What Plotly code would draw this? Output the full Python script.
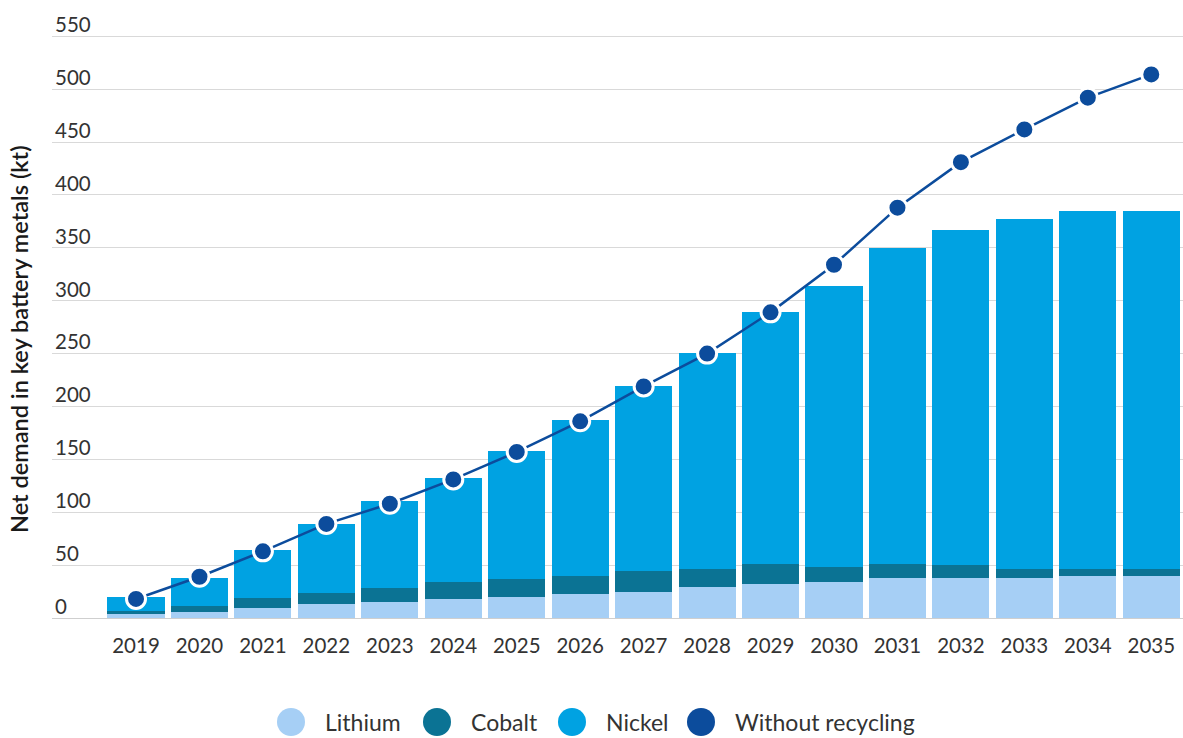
import plotly.graph_objects as go

years = [str(y) for y in range(2019, 2036)]
lithium = [4, 6, 9.5, 13, 15, 18, 20, 22.5, 25, 29, 32, 34, 37.5, 37.5, 38, 40, 40]
cobalt = [3, 5.5, 9.5, 11, 13, 16, 17, 17.5, 19, 17, 19, 14.5, 13.5, 12.5, 8, 6, 6]
nickel = [13, 26.5, 45, 65, 83, 98, 121, 147, 175, 205, 238, 265.5, 299, 317, 331, 339, 339]
without_recycling = [18, 39, 63, 89, 108, 131, 157, 186, 219, 250, 289, 334, 388, 431, 462, 492, 514]

legend_names = ["Lithium", "Cobalt", "Nickel", "Without recycling"]

c_li = "#a6cff5"
c_co = "#0b7394"
c_ni = "#00a2e2"
c_wr = "#0c4c9c"
legend_colors = [c_li, c_co, c_ni, c_wr]

FONT = "Lato, 'Open Sans', sans-serif"

fig = go.Figure()
for name, vals, col in [("Lithium", lithium, c_li), ("Cobalt", cobalt, c_co), ("Nickel", nickel, c_ni)]:
    fig.add_trace(go.Bar(x=years, y=vals, name=name, marker=dict(color=col, line=dict(width=0))))

fig.add_trace(go.Scatter(x=years, y=without_recycling, mode="lines+markers", name="Without recycling",
                         line=dict(color=c_wr, width=2.5),
                         marker=dict(size=19, color=c_wr, line=dict(color="white", width=3))))

# plot area geometry (pixels) used to place the custom legend
L, R, T, B = 52, 0, 8, 120
W, H = 1183, 738
pw = W - L - R
ph = H - T - B


def px_x(p):
    return (p - L) / pw


def px_y(p):
    return (H - B - p) / ph


legend_circle_x = [291, 437, 572, 701]
legend_y = 722
shapes = []
annotations = []
for name, col, cx in zip(legend_names, legend_colors, legend_circle_x):
    shapes.append(dict(type="circle", xref="paper", yref="paper", xsizemode="pixel", ysizemode="pixel",
                       xanchor=px_x(cx), yanchor=px_y(legend_y), x0=-14, x1=14, y0=-14, y1=14,
                       fillcolor=col, line=dict(width=0)))
    annotations.append(dict(text=name, xref="paper", yref="paper", x=px_x(cx + 32), y=px_y(legend_y),
                            xanchor="left", yanchor="middle", showarrow=False,
                            font=dict(size=23, color="#333333", family=FONT)))

annotations.append(dict(text="Net demand in key battery metals (kt)", textangle=-90,
                        xref="paper", yref="paper", x=px_x(19), y=px_y(339),
                        xanchor="center", yanchor="middle", showarrow=False,
                        font=dict(size=23.5, color="#1a1a1a", family=FONT, weight=600)))

fig.update_layout(
    width=W, height=H,
    margin=dict(l=L, r=R, t=T, b=B),
    barmode="stack", bargap=0.1,
    showlegend=False,
    plot_bgcolor="white", paper_bgcolor="white",
    font=dict(family=FONT, size=20, color="#333333"),
    shapes=shapes,
    annotations=annotations,
    xaxis=dict(type="category", range=[-1.324, 16.5], showgrid=False, showline=False,
               ticks="outside", ticklen=9, tickcolor="rgba(0,0,0,0)",
               tickfont=dict(size=20.5, color="#333333")),
    yaxis=dict(range=[0, 576.8], tickvals=list(range(0, 551, 50)), ticklabelposition="inside top",
               ticklabelshift=3,
               gridcolor="#d9d9d9", gridwidth=1, zeroline=True, zerolinecolor="#cfcfcf", zerolinewidth=1,
               tickfont=dict(size=20.5, color="#333333")),
)

fig.write_html("out.html")
